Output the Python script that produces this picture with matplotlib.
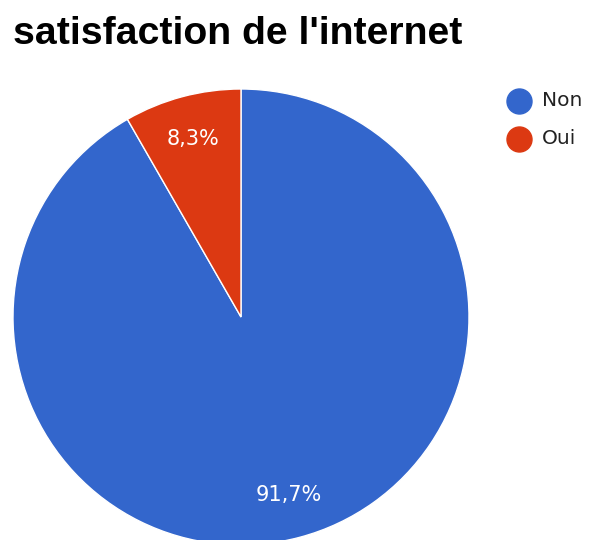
import matplotlib
matplotlib.use('Agg')
import matplotlib.pyplot as plt
from matplotlib.lines import Line2D

# Survey answers
labels = ['Non', 'Oui']
shares = [91.7, 8.3]
colors = ['#3366CC', '#DC3912']

W, H = 589, 540
fig = plt.figure(figsize=(W / 100, H / 100), dpi=100)

# Pie centre and radius in pixels
cx, cy, r = 241, 317, 228
ax = fig.add_axes([(cx - r) / W, (H - cy - r) / H, 2 * r / W, 2 * r / H])

wedges, texts, autotexts = ax.pie(
    shares, colors=colors, startangle=90, counterclock=False,
    autopct=lambda p: f'{p:.1f}%'.replace('.', ','), pctdistance=0.81,
    radius=1, wedgeprops=dict(edgecolor='white', linewidth=1),
    textprops=dict(color='white', fontsize=15, family='DejaVu Sans'))
ax.set_xlim(-1, 1)
ax.set_ylim(-1, 1)
ax.set_aspect('auto')
ax.axis('off')

fig.text(13 / W, 1 - 44 / H, "satisfaction de l'internet", fontsize=28.3,
         fontweight='bold', family='Liberation Sans', va='baseline', ha='left')

# Legend entries on the right
for i, (lab, col) in enumerate(zip(labels, colors)):
    y = 1 - (101 + 38 * i) / H
    fig.add_artist(Line2D([519 / W], [y], marker='o', markersize=18,
                          markerfacecolor=col, markeredgecolor=col,
                          linestyle='none', transform=fig.transFigure))
    fig.text(542 / W, y, lab, fontsize=14.5, family='DejaVu Sans',
             color='#222222', va='center', ha='left')

fig.savefig('out.png', dpi=100)
